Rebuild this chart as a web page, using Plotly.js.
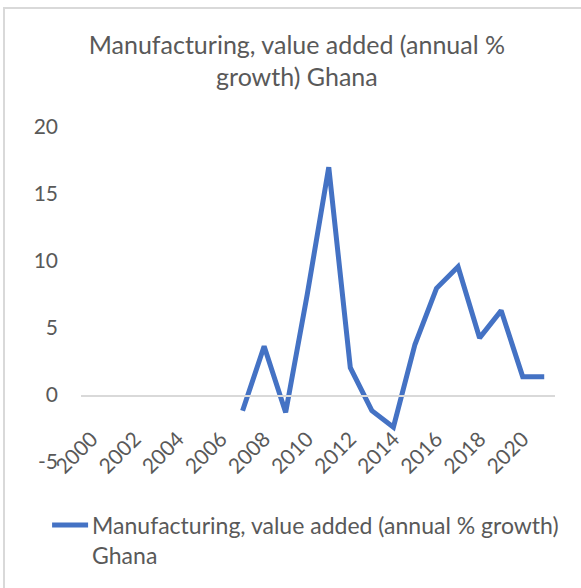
<!DOCTYPE html>
<html><head><meta charset="utf-8">
<script src="https://cdn.plot.ly/plotly-3.0.1.min.js"></script>
<style>
body{margin:0;background:#fff;}
#chart{width:581px;height:588px;}
#frame{position:absolute;left:3px;top:7px;width:700px;height:700px;border:2px solid #d9d9d9;pointer-events:none;}
</style>
</head><body>
<div id="chart"></div><div id="frame"></div>
<script>
const years = ['2000','2001','2002','2003','2004','2005','2006','2007','2008','2009','2010',
               '2011','2012','2013','2014','2015','2016','2017','2018','2019','2020','2021'];
const growth = [null,null,null,null,null,null,null,-1.17,3.64,-1.3,7.5,
                17.0,2.04,-1.17,-2.4,3.77,7.96,9.57,4.26,6.3,1.37,1.37];
const xTickYears = ['2000','2002','2004','2006','2008','2010','2012','2014','2016','2018','2020'];
const yTicks = [-5,0,5,10,15,20];
const seriesName = 'Manufacturing, value added (annual % growth)<br>Ghana';
const chartTitle = 'Manufacturing, value added (annual %<br>growth) Ghana';

const FONT = 'Lato, "Open Sans", sans-serif';
const GREY = '#595959';

const trace = {
  x: years, y: growth, type: 'scatter', mode: 'lines', name: seriesName,
  line: {color: '#4472C4', width: 5}, connectgaps: false, hoverinfo: 'x+y'
};

const layout = {
  width: 581, height: 588,
  margin: {l: 81, r: 26, t: 127, b: 123, pad: 0},
  paper_bgcolor: 'rgba(0,0,0,0)', plot_bgcolor: 'rgba(0,0,0,0)',
  font: {family: FONT, color: GREY, size: 21},
  title: {text: chartTitle, x: 0.511, xanchor: 'center', y: 0.909, yanchor: 'top',
          yref: 'container', font: {family: FONT, size: 25, color: GREY}},
  xaxis: {type: 'category', categoryorder: 'array', categoryarray: years,
          range: [-0.5, 21.5], anchor: 'free', position: 0.2,
          showline: true, linecolor: '#d9d9d9', linewidth: 1.5,
          showgrid: false, zeroline: false, ticks: '',
          tickmode: 'array', tickvals: xTickYears, ticktext: xTickYears,
          tickangle: -45, ticklabelstandoff: 22,
          tickfont: {family: FONT, size: 21, color: GREY}, automargin: false},
  yaxis: {range: [-5, 20], tickmode: 'array', tickvals: yTicks, ticktext: yTicks.map(String),
          showgrid: false, zeroline: false, showline: false, ticks: '',
          ticklabelstandoff: 22, tickfont: {family: FONT, size: 21, color: GREY}, automargin: false},
  showlegend: true,
  legend: {orientation: 'v', x: -0.061, xanchor: 'left', y: -0.124, yanchor: 'top',
           valign: 'top', bgcolor: 'rgba(0,0,0,0)', font: {family: FONT, size: 23, color: GREY}}
};

function stretchLegendLine(gd){
  // lengthen the legend line sample to match the reference swatch
  gd.querySelectorAll('g.legend path.js-line, g.legend .legendlines path').forEach(function(p){
    p.setAttribute('d', 'M-12,0h48');
  });
}
const gd = document.getElementById('chart');
Plotly.newPlot(gd, [trace], layout, {displayModeBar: false, staticPlot: true}).then(function(){
  stretchLegendLine(gd);
  gd.on('plotly_afterplot', function(){ stretchLegendLine(gd); });
  setTimeout(function(){ stretchLegendLine(gd); }, 0);
});
</script>
</body></html>
